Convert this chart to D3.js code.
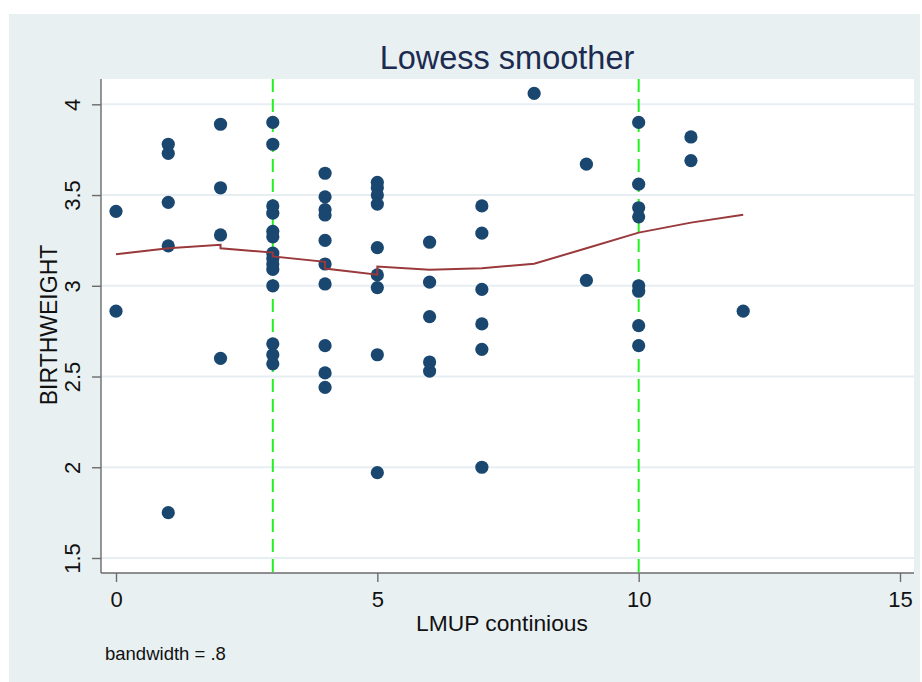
<!DOCTYPE html>
<html><head><meta charset="utf-8">
<script src="https://cdn.jsdelivr.net/npm/d3@7"></script>
<style>body{margin:0;background:#fff}svg{display:block}text{font-family:"Liberation Sans",Arial,sans-serif}</style>
</head><body>
<script>
// ---- data ----
const lmup = [0,0, 1,1,1,1,1, 2,2,2,2,
  3,3,3,3,3,3,3,3,3,3,3,3,3,3,
  4,4,4,4,4,4,4,4,4,4,
  5,5,5,5,5,5,5,5,5,
  6,6,6,6,6,
  7,7,7,7,7,7,
  8, 9,9,
  10,10,10,10,10,10,10,10,
  11,11, 12];
const birthweight = [3.41,2.86, 3.78,3.73,3.46,3.22,1.75, 3.89,3.54,3.28,2.60,
  3.90,3.78,3.44,3.40,3.30,3.27,3.18,3.15,3.12,3.09,3.00,2.68,2.62,2.57,
  3.62,3.49,3.42,3.39,3.25,3.12,3.01,2.67,2.52,2.44,
  3.57,3.54,3.50,3.45,3.21,3.06,2.99,2.62,1.97,
  3.24,3.02,2.83,2.58,2.53,
  3.44,3.29,2.98,2.79,2.65,2.00,
  4.06, 3.67,3.03,
  3.90,3.56,3.43,3.38,3.00,2.97,2.78,2.67,
  3.82,3.69, 2.86];
const lowessX = [0,1,2,2,3,3,4,4,5,5,6,7,8,9,10,11,12];
const lowessY = [3.174,3.207,3.226,3.207,3.183,3.162,3.132,3.095,3.061,3.106,3.088,3.097,3.121,3.207,3.293,3.348,3.391];
const xTicks = [0,5,10,15];
const yTicks = [1.5,2,2.5,3,3.5,4];
const refLines = [3,10];
const titleText = "Lowess smoother";
const xTitle = "LMUP continious";
const yTitle = "BIRTHWEIGHT";
const note = "bandwidth = .8";

// ---- layout ----
const W = 922, H = 682;
const svg = d3.select("body").append("svg").attr("width", W).attr("height", H);
svg.append("rect").attr("x",9).attr("y",14).attr("width",911).attr("height",668).attr("fill","#e8f0f2");

const plot = {l:101, r:914, t:79, b:573};
const x = d3.scaleLinear().domain([0,15]).range([116,900]);
const y = d3.scaleLinear().domain([1.5,4]).range([558,104.3]);

svg.append("rect").attr("x",plot.l).attr("y",plot.t).attr("width",plot.r-plot.l).attr("height",plot.b-plot.t).attr("fill","#fff");

// gridlines
svg.append("g").selectAll("line").data(yTicks).join("line")
  .attr("x1",plot.l).attr("x2",plot.r).attr("y1",d=>y(d)).attr("y2",d=>y(d))
  .attr("stroke","#e6eef2").attr("stroke-width",2);

// reference lines
svg.append("g").selectAll("line").data(refLines).join("line")
  .attr("x1",d=>x(d)).attr("x2",d=>x(d)).attr("y1",plot.t).attr("y2",plot.b)
  .attr("stroke","#22f022").attr("stroke-width",2).attr("stroke-dasharray","13,7");

// points
svg.append("g").selectAll("circle").data(lmup.map((v,i)=>[v,birthweight[i]])).join("circle")
  .attr("cx",d=>x(d[0])).attr("cy",d=>y(d[1])).attr("r",6.6).attr("fill","#1a476f");

// lowess line
svg.append("path").datum(lowessX.map((v,i)=>[v,lowessY[i]]))
  .attr("d", d3.line().x(d=>x(d[0])).y(d=>y(d[1])))
  .attr("fill","none").attr("stroke","#99393c").attr("stroke-width",2);

// axes
const xAxis = svg.append("g").attr("transform",`translate(0,${plot.b})`)
  .call(d3.axisBottom(x).tickValues(xTicks).tickSize(9).tickPadding(9).tickFormat(d3.format("d")));
xAxis.select(".domain").attr("d",`M${plot.l},0H${plot.r}`);
const yAxis = svg.append("g").attr("transform",`translate(${plot.l},0)`)
  .call(d3.axisLeft(y).tickValues(yTicks).tickSize(9).tickPadding(0).tickFormat(d3.format("")));
yAxis.select(".domain").attr("d",`M0,${plot.t}V${plot.b}`);
svg.selectAll(".domain").attr("stroke","#6b6b6b").attr("stroke-width",1.4);
svg.selectAll(".tick line").attr("stroke","#6b6b6b").attr("stroke-width",1.4);
xAxis.selectAll("text").attr("font-size",22).attr("fill","#111").attr("font-family","Liberation Sans, Arial, sans-serif");
yAxis.selectAll(".tick text").attr("font-size",22).attr("fill","#111").attr("font-family","Liberation Sans, Arial, sans-serif")
  .attr("text-anchor","middle").attr("dy",null).attr("x",null)
  .attr("transform","translate(-21,0) rotate(-90)");

// titles
svg.append("text").attr("x",507).attr("y",69).attr("text-anchor","middle")
  .attr("font-size",32.5).attr("fill","#1c2b4f").text(titleText);
svg.append("text").attr("x",502).attr("y",631).attr("text-anchor","middle")
  .attr("font-size",22.8).attr("fill","#111").text(xTitle);
svg.append("text").attr("transform","translate(57,325) rotate(-90)").attr("text-anchor","middle")
  .attr("font-size",23).attr("fill","#111").text(yTitle);
svg.append("text").attr("x",105).attr("y",660)
  .attr("font-size",18.5).attr("fill","#111").text(note);
</script>
</body></html>
